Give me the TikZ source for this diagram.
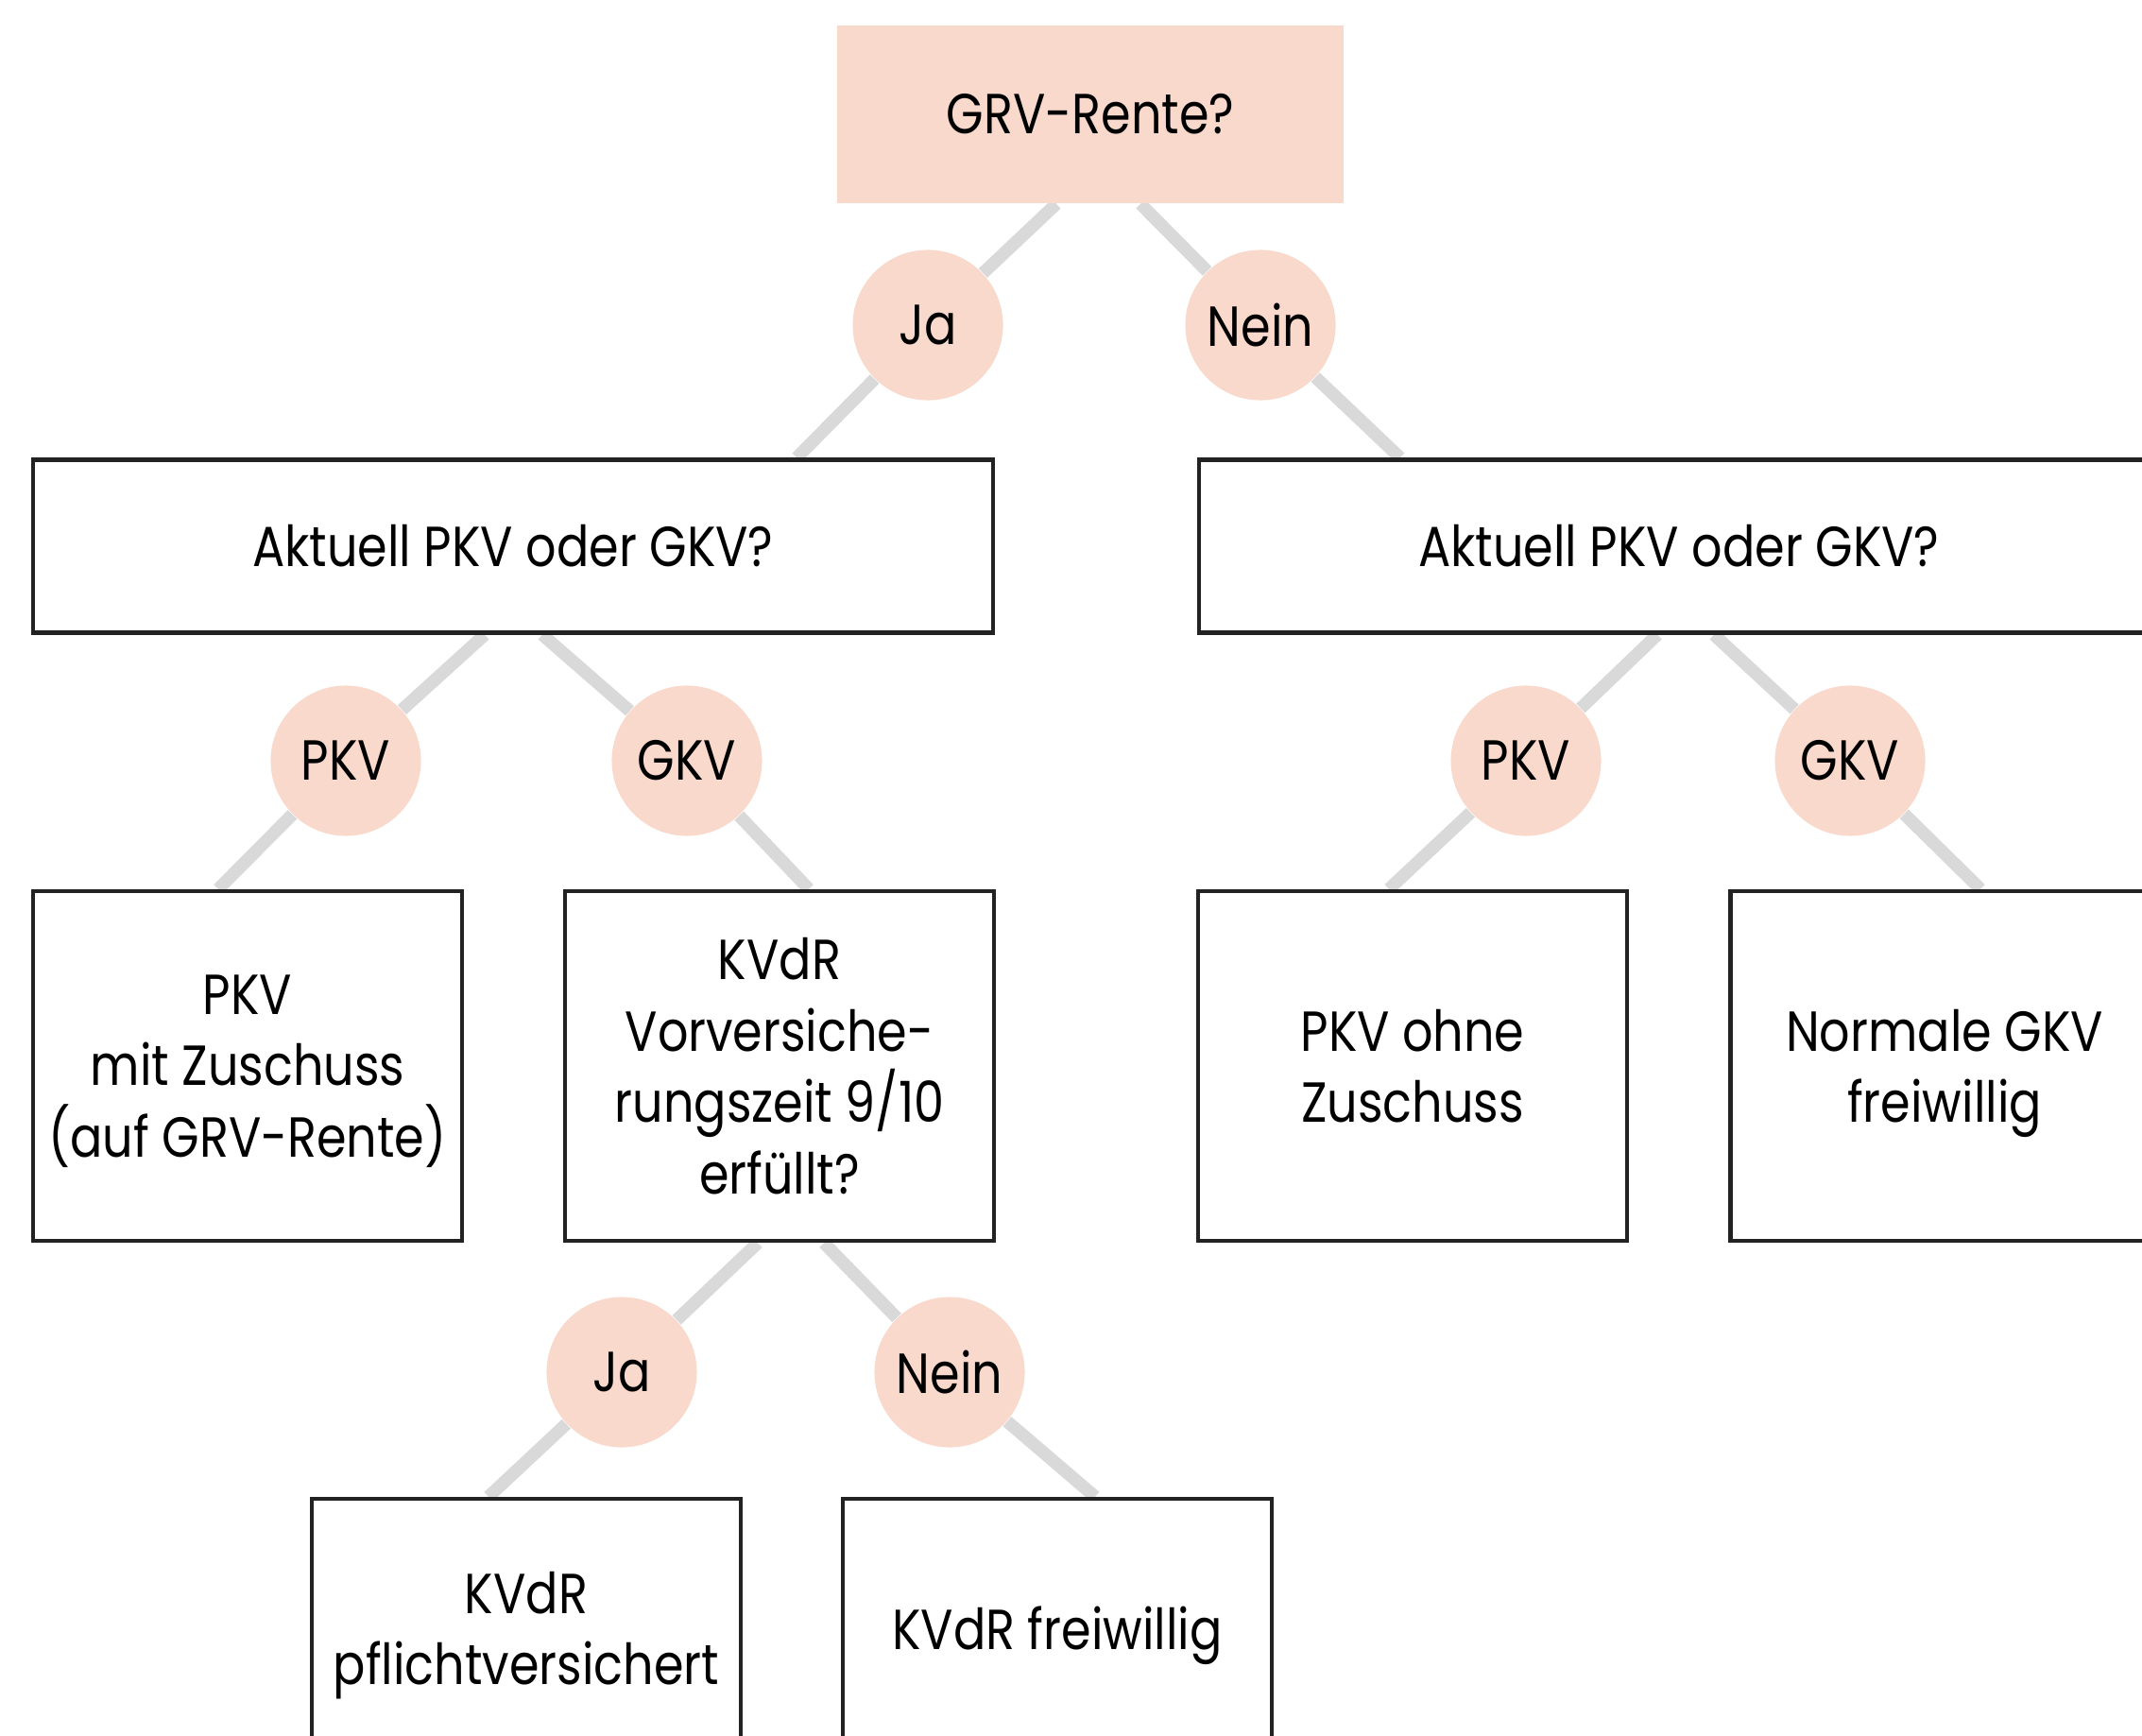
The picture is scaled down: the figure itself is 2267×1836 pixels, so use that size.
\documentclass[tikz,border=0pt]{standalone}
\usepackage{fontspec}
\setmainfont{Poppins}[FakeStretch=0.85]
\usetikzlibrary{backgrounds}

\definecolor{peach}{HTML}{F9D9CB}
\definecolor{edgegray}{HTML}{D9D9D9}
\definecolor{boxline}{HTML}{222222}

\begin{document}
\begin{tikzpicture}[x=0.01cm, y=-0.01cm,
    every node/.style={font=\fontsize{17}{21.5}\selectfont, align=center, inner sep=0pt},
    question/.style={fill=peach, minimum width=5.35cm, minimum height=1.88cm},
    answer/.style={circle, fill=peach, minimum size=1.59cm},
    choice/.style={draw=boxline, line width=1.2pt, fill=white, minimum width=10.16cm, minimum height=1.83cm},
    result/.style={draw=boxline, line width=1.2pt, fill=white, minimum width=4.53cm, minimum height=3.70cm, text depth=0pt},
    edge/.style={draw=edgegray, line width=3.8pt}]
  \clip (0,0) rectangle (2267,1836);

  % question and first answers
  \node[question] (top) at (1154,121) {GRV-Rente?};
  \node[answer] (ja1) at (982,344) {Ja};
  \node[answer] (nein1) at (1334,344) {Nein};

  % second level
  \node[choice] (l2a) at (543,578) {Aktuell PKV oder GKV?};
  \node[choice] (l2b) at (1777,578) {Aktuell PKV oder GKV?};
  \node[answer] (pkva) at (366,805) {PKV};
  \node[answer] (gkva) at (727,805) {GKV};
  \node[answer] (pkvb) at (1615,805) {PKV};
  \node[answer] (gkvb) at (1958,805) {GKV};

  % third level
  \node[result] (l3a) at (262,1128) {PKV\\mit Zuschuss\\(auf GRV-Rente)};
  \node[result] (l3b) at (825,1128) {KVdR\\Vorversiche-\\rungszeit 9/10\\erfüllt?};
  \node[result] (l3c) at (1495,1128) {PKV ohne\\Zuschuss};
  \node[result] (l3d) at (2058,1128) {Normale GKV\\freiwillig};
  \node[answer] (ja2) at (658,1452) {Ja};
  \node[answer] (nein2) at (1005,1452) {Nein};

  % fourth level
  \node[result, minimum height=2.74cm] (l4a) at (557,1723) {KVdR\\pflichtversichert};
  \node[result, minimum height=2.74cm] (l4b) at (1119,1723) {KVdR freiwillig};

  \begin{scope}[on background layer]
    \fill[white] (0,0) rectangle (2267,1836);
    \draw[edge] ([xshift=-0.36cm]top.south) -- (ja1) -- ([xshift=3.00cm]l2a.north);
    \draw[edge] ([xshift=0.53cm]top.south) -- (nein1) -- ([xshift=-2.95cm]l2b.north);
    \draw[edge] ([xshift=-0.30cm]l2a.south) -- (pkva) -- ([xshift=-0.31cm]l3a.north);
    \draw[edge] ([xshift=0.31cm]l2a.south) -- (gkva) -- ([xshift=0.31cm]l3b.north);
    \draw[edge] ([xshift=-0.23cm]l2b.south) -- (pkvb) -- ([xshift=-0.25cm]l3c.north);
    \draw[edge] ([xshift=0.37cm]l2b.south) -- (gkvb) -- ([xshift=0.38cm]l3d.north);
    \draw[edge] ([xshift=-0.23cm]l3b.south) -- (ja2) -- ([xshift=-0.40cm]l4a.north);
    \draw[edge] ([xshift=0.47cm]l3b.south) -- (nein2) -- ([xshift=0.40cm]l4b.north);
  \end{scope}
\end{tikzpicture}
\end{document}
